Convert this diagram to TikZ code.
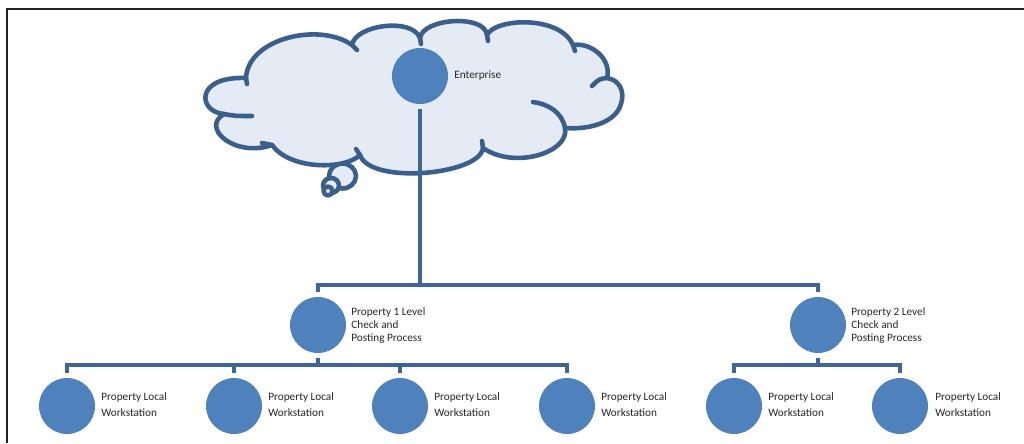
\documentclass[tikz,border=0pt]{standalone}
\usepackage{fontspec}
\setmainfont{Carlito}
\definecolor{circfill}{HTML}{4F81BD}
\definecolor{connc}{HTML}{3D6596}
\definecolor{cloudline}{HTML}{3A5F8D}
\definecolor{cloudfill}{HTML}{E5EBF5}
\definecolor{framec}{HTML}{222222}
\begin{document}
\begin{tikzpicture}[x=0.02cm,y=-0.02cm,
  circ/.style={circle,fill=circfill,minimum size=1.12cm,inner sep=0pt,outer sep=0.1cm},
  conn/.style={draw=connc,line width=2pt},
  lbl/.style={anchor=west,align=left,inner sep=0pt,text=black!85,font=\fontsize{6.4}{7.4}\selectfont},
  lblw/.style={lbl,font=\fontsize{6.4}{9.2}\selectfont},
  cloudsty/.style={draw=cloudline,fill=cloudfill,line width=2.6pt,line join=round},
  inner/.style={draw=cloudline,line width=2.6pt,line cap=round}]
\useasboundingbox (0,0) rectangle (1024,443);
% frame
\draw[framec,line width=0.6pt] (7,443) -- (7,9) -- (1024,9);
% thought bubbles
\draw[cloudsty] (342.5,176) ellipse [x radius=0.27cm, y radius=0.25cm];
\draw[cloudsty] (331,185.5) ellipse [x radius=0.16cm, y radius=0.15cm];
\draw[cloudsty] (328,191) circle [radius=0.09cm];
% cloud
\path[cloudsty] (246,78) .. controls (248,38) and (320,22) .. (352,45)
  .. controls (355,25) and (412,17) .. (420,38)
  .. controls (423,18) and (485,14) .. (487,35)
  .. controls (495,18) and (560,15) .. (573,45)
  .. controls (592,42) and (612,60) .. (607,78)
  .. controls (620,80) and (625,92) .. (621,104)
  .. controls (616,122) and (590,130) .. (565,128)
  .. controls (570,152) and (515,170) .. (483,148)
  .. controls (480,175) and (370,185) .. (360,155)
  .. controls (345,170) and (290,170) .. (272,145)
  .. controls (235,158) and (200,128) .. (224,114)
  .. controls (198,112) and (194,76) .. (246,78) -- cycle;
% inner strokes of the cloud
\path[inner] (246,78) -- (247,84);
\path[inner] (352,45) -- (357,50);
\path[inner] (420,38) -- (421,44);
\path[inner] (487,35) -- (488,41);
\path[inner] (573,45) -- (575,51);
\path[inner] (607,78) .. controls (599,79) .. (592,86);
\path[inner] (565,128) .. controls (562,112) and (548,104) .. (533,102);
\path[inner] (483,148) -- (482,141);
\path[inner] (360,155) -- (356,149);
\path[inner] (272,145) -- (262,143);
\path[inner] (224,114) .. controls (235,116) .. (252,116);
% nodes
\node[circ] (ent) at (420,76) {};
\node[circ] (p1) at (318,325) {};
\node[circ] (p2) at (818,325) {};
\node[circ] (w1) at (67,406) {};
\node[circ] (w2) at (234,406) {};
\node[circ] (w3) at (400,406) {};
\node[circ] (w4) at (567,406) {};
\node[circ] (w5) at (734,406) {};
\node[circ] (w6) at (900,406) {};
% labels
\node[lbl] (tent) at (454,76) {Enterprise};
\node[lbl] (tp1) at (351,326) {Property 1 Level\\Check and\\Posting Process};
\node[lbl] (tp2) at (851,326) {Property 2 Level\\Check and\\Posting Process};
\node[lblw] (tw1) at (101,405) {Property Local\\Workstation};
\node[lblw] (tw2) at (268,405) {Property Local\\Workstation};
\node[lblw] (tw3) at (434,405) {Property Local\\Workstation};
\node[lblw] (tw4) at (601,405) {Property Local\\Workstation};
\node[lblw] (tw5) at (768,405) {Property Local\\Workstation};
\node[lblw] (tw6) at (935,405) {Property Local\\Workstation};
% connectors
\coordinate (j1) at (420,285);
\coordinate (j2) at (318,365);
\coordinate (j3) at (818,365);
\draw[conn] (ent.south) -- (j1);
\draw[conn] (p1.north) |- (j1) -| (p2.north);
\draw[conn] (p1.south) -- (j2);
\draw[conn] (w1.north) |- (j2) -| (w4.north);
\draw[conn] (w2.north) -- (w2.north |- j2);
\draw[conn] (w3.north) -- (w3.north |- j2);
\draw[conn] (p2.south) -- (j3);
\draw[conn] (w5.north) |- (j3) -| (w6.north);
\end{tikzpicture}
\end{document}
